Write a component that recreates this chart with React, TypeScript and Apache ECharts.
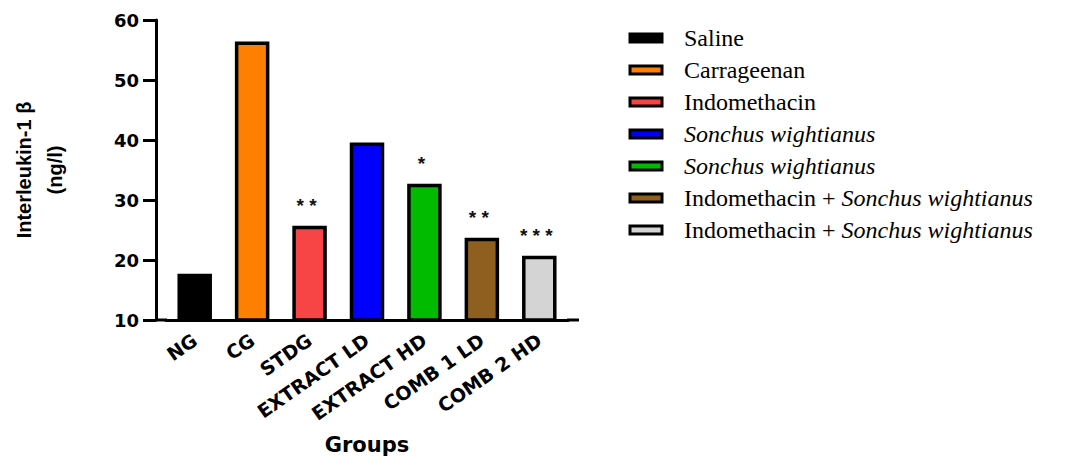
import React, { useEffect, useRef } from 'react';
import * as echarts from 'echarts';

const categories = ['NG', 'CG', 'STDG', 'EXTRACT LD', 'EXTRACT HD', 'COMB 1 LD', 'COMB 2 HD'];
const values = [17.7, 56.4, 25.7, 39.6, 32.7, 23.7, 20.7];
const significance = ['', '', '**', '', '*', '**', '***'];
const legendPlain = ['Saline', 'Carrageenan', 'Indomethacin', '', '', 'Indomethacin + ', 'Indomethacin + '];
const legendItalic = ['', '', '', 'Sonchus wightianus', 'Sonchus wightianus', 'Sonchus wightianus', 'Sonchus wightianus'];
const colors = ['#000000', '#FF7F00', '#F74444', '#0000FF', '#00BB00', '#8E5F1F', '#D4D4D4'];
const yMin = 10;
const yMax = 60;
const yInterval = 10;

export default function App() {
  const ref = useRef<HTMLDivElement>(null);
  useEffect(() => {
    const chart = echarts.init(ref.current!, null, { renderer: 'svg' });
    const series = categories.map((c, i) => ({
      name: c,
      type: 'bar',
      barWidth: 34.5,
      barGap: '-100%',
      data: categories.map((_, j) => (j === i ? values[i] : null)),
      itemStyle: { color: colors[i], borderColor: '#000', borderWidth: 3.5 },
      label: {
        show: significance[i] !== '',
        position: 'top',
        distance: 11,
        offset: [-3, 0],
        formatter: () => significance[i].split('').join(' '),
        fontSize: 19,
        fontWeight: 'bold',
        fontFamily: 'Liberation Sans',
        color: '#111',
      },
    }));
    const axisFont = { fontFamily: 'DejaVu Sans', fontWeight: 'bold', color: '#000' };
    chart.setOption({
      animation: false,
      grid: { left: 166, top: 20, width: 402, height: 300, containLabel: false, outerBoundsMode: 'none' },
      legend: {
        orient: 'vertical',
        left: 628.5,
        top: 26,
        padding: 0,
        itemGap: 8,
        itemWidth: 32,
        itemHeight: 8,
        icon: 'rect',
        itemStyle: { borderColor: '#000', borderWidth: 3 },
        data: categories,
        formatter: (name: string) => {
          const i = categories.indexOf(name);
          let s = '';
          if (legendPlain[i]) s += `{n|${legendPlain[i]}}`;
          if (legendItalic[i]) s += `{i|${legendItalic[i]}}`;
          return s;
        },
        textStyle: {
          padding: [0, 0, 0, 17],
          fontSize: 24,
          lineHeight: 24,
          rich: {
            n: { fontFamily: 'Liberation Serif', fontSize: 24, lineHeight: 24, color: '#000' },
            i: { fontFamily: 'Liberation Serif', fontSize: 24, lineHeight: 24, fontStyle: 'italic', color: '#000' },
          },
        },
      },
      xAxis: {
        type: 'category',
        data: categories,
        name: 'Groups',
        nameLocation: 'middle',
        nameGap: 114,
        nameTextStyle: { ...axisFont, fontSize: 21, lineHeight: 22 },
        axisLine: { lineStyle: { color: '#000', width: 3 } },
        axisTick: { alignWithLabel: true, length: 10, lineStyle: { color: '#000', width: 3 } },
        axisLabel: { ...axisFont, fontSize: 19, rotate: 35, margin: 18, interval: 0 },
      },
      yAxis: {
        type: 'value',
        min: yMin,
        max: yMax,
        interval: yInterval,
        offset: 10,
        name: 'Interleukin-1 β\n(ng/l)',
        nameLocation: 'middle',
        nameRotate: 90,
        nameGap: 86,
        nameTextStyle: { fontFamily: 'Liberation Sans', fontWeight: 'bold', fontSize: 20, lineHeight: 31, color: '#000', align: 'center' },
        splitLine: { show: false },
        axisLine: { show: true, lineStyle: { color: '#000', width: 3 } },
        axisTick: { show: true, length: 13, lineStyle: { color: '#000', width: 3 } },
        axisLabel: { ...axisFont, fontSize: 18, margin: 17 },
      },
      graphic: [
        { type: 'line', shape: { x1: 156, y1: 320, x2: 167, y2: 320 }, style: { stroke: '#000', lineWidth: 3 } },
        { type: 'line', shape: { x1: 567, y1: 320, x2: 579, y2: 320 }, style: { stroke: '#000', lineWidth: 3 } },
      ],
      series,
    });
    return () => chart.dispose();
  }, []);
  return <div ref={ref} style={{ position: 'fixed', left: 0, top: 0, width: 1085, height: 459, background: '#fff' }} />;
}
